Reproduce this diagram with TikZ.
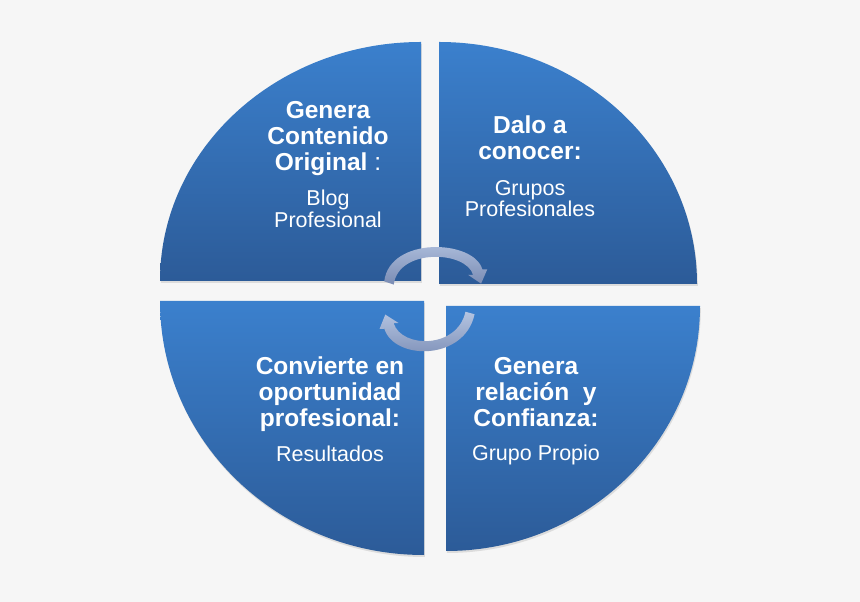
\documentclass[tikz,border=0pt]{standalone}
\usepackage{fontspec}
\setmainfont{Liberation Sans}
\usetikzlibrary{calc,shadows}
\definecolor{bgc}{RGB}{246,246,246}
\definecolor{secTop}{RGB}{59,128,205}
\definecolor{secBot}{RGB}{44,91,152}
\definecolor{arrTop}{RGB}{180,196,225}
\definecolor{arrBot}{RGB}{122,140,180}
\tikzset{
  sector/.style={top color=secTop, bottom color=secBot,
    drop shadow={opacity=0.22, shadow xshift=0.8pt, shadow yshift=-2pt}},
  cyc/.style={top color=arrTop, bottom color=arrBot},
  title/.style={text=white, font=\fontsize{24.5}{26.2}\selectfont\bfseries,
    align=center, inner sep=0pt, anchor=base},
  sub/.style={text=white, font=\fontsize{21.5}{21.7}\selectfont,
    align=center, inner sep=0pt, anchor=base}
}
\begin{document}
\begin{tikzpicture}[x=1pt,y=1pt]
\fill[bgc] (0,0) rectangle (860,602);
\useasboundingbox (0,0) rectangle (860,602);

% sectors
\path[sector] (421,321) -- (160,321) arc[start angle=180, end angle=90, x radius=261pt, y radius=239pt] -- cycle;
\path[sector] (439,318) -- (439,560) arc[start angle=90, end angle=0, x radius=258pt, y radius=242pt] -- cycle;
\path[sector] (424,301) -- (160,301) arc[start angle=180, end angle=270, x radius=264pt, y radius=254pt] -- cycle;
\path[sector] (446,296) -- (700,296) arc[start angle=0, end angle=-90, x radius=254pt, y radius=245pt] -- cycle;

% top cycle arrow
\coordinate (O1) at (434,304);
\coordinate (a0) at (389,319);
\coordinate (a1) at (394,360);
\coordinate (a2) at (470,357);
\coordinate (a3) at (477.7,329.9);
\coordinate (ha) at (487.3,332.7);
\coordinate (ta) at (481.1,318.4);
\coordinate (hb) at (468.1,327.1);
\shade[cyc]
  ($(O1)!1.106!(a0)$) .. controls ($(O1)!1.106!(a1)$) and ($(O1)!1.106!(a2)$) .. ($(O1)!1.106!(a3)$)
  -- (ha) -- (ta) -- (hb)
  -- ($(O1)!0.894!(a3)$) .. controls ($(O1)!0.894!(a2)$) and ($(O1)!0.894!(a1)$) .. ($(O1)!0.894!(a0)$)
  -- cycle;

% bottom cycle arrow
\coordinate (O2) at (430,300);
\coordinate (b0) at (470,289);
\coordinate (b1) at (461,247);
\coordinate (b2) at (398,247.4);
\coordinate (b3) at (389,276);
\coordinate (hc) at (379.5,273);
\coordinate (tb) at (385.3,287.4);
\coordinate (hd) at (398.5,279);
\shade[cyc]
  ($(O2)!1.114!(b0)$) .. controls ($(O2)!1.114!(b1)$) and ($(O2)!1.114!(b2)$) .. ($(O2)!1.114!(b3)$)
  -- (hc) -- (tb) -- (hd)
  -- ($(O2)!0.886!(b3)$) .. controls ($(O2)!0.886!(b2)$) and ($(O2)!0.886!(b1)$) .. ($(O2)!0.886!(b0)$)
  -- cycle;

% texts (anchor base = baseline of the last line)
\node[title] (tlT) at (328,431.3) {Genera\\Contenido\\Original {\mdseries :}};
\node[sub]   (tlS) at (328,374.7) {Blog\\Profesional};
\node[title] (trT) at (530,442) {Dalo a\\conocer:};
\node[sub]   (trS) at (530,385) {Grupos\\Profesionales};
\node[title] (blT) at (330,175.4) {Convierte en\\oportunidad\\profesional:};
\node[sub]   (blS) at (330,140.4) {Resultados};
\node[title] (brT) at (536,175.3) {Genera\\relación\ \ y\\Confianza:};
\node[sub]   (brS) at (536,141) {Grupo Propio};
\end{tikzpicture}
\end{document}
